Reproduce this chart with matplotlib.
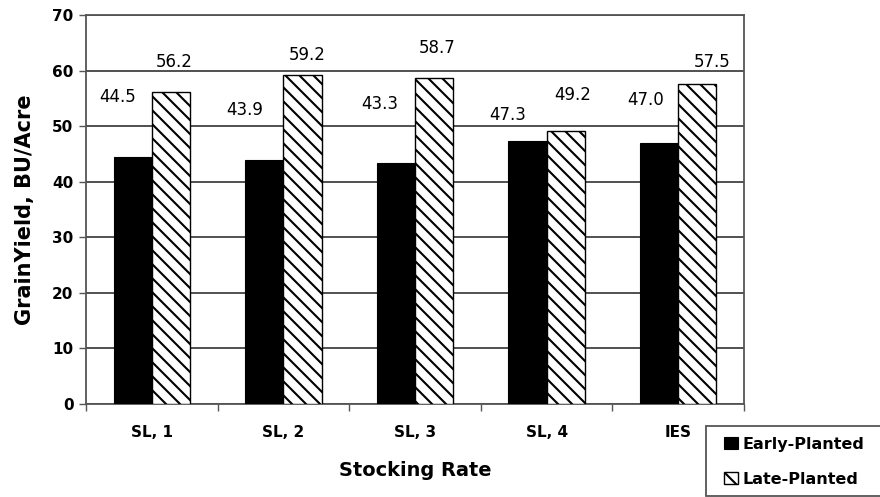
import matplotlib
matplotlib.use("Agg")
import matplotlib.pyplot as plt
from matplotlib.patches import Rectangle
import numpy as np

# Grain yield by stocking rate and planting date
categories = ["SL, 1", "SL, 2", "SL, 3", "SL, 4", "IES"]
early_planted = [44.5, 43.9, 43.3, 47.3, 47.0]
late_planted = [56.2, 59.2, 58.7, 49.2, 57.5]
y_ticks = [0, 10, 20, 30, 40, 50, 60, 70]

# Value label placement (x offset from category centre, y in axis units)
early_lbl_dx = [-0.257, -0.292, -0.266, -0.293, -0.245]
early_lbl_y = [55.2, 52.9, 54.0, 52.0, 54.7]
late_lbl_dx = [0.169, 0.179, 0.167, 0.201, 0.257]
late_lbl_y = [61.5, 62.8, 64.1, 55.6, 61.5]

# Render at 84 dpi so the hatch tile gives a tighter stripe pitch;
# point sizes are scaled so the layout stays at the 100-dpi proportions.
DPI = 84
K = 100 / DPI


def pt(v):
    return v * K


W_PX, H_PX = 881, 497

plt.rcParams["font.family"] = ["DejaVu Sans"]
plt.rcParams["hatch.linewidth"] = pt(1.5)
plt.rcParams["hatch.color"] = "black"

fig = plt.figure(figsize=(W_PX / DPI, H_PX / DPI), dpi=DPI)
ax = fig.add_axes([86 / W_PX, 1 - 404 / H_PX, (744 - 86) / W_PX, (404 - 15) / H_PX])

x = np.arange(len(categories))
w = 0.29
ax.bar(x - w / 2, early_planted, w, color="black", edgecolor="black",
       linewidth=pt(0.8), label="Early-Planted", zorder=3)
ax.bar(x + w / 2, late_planted, w, color="white", edgecolor="black",
       linewidth=pt(1.0), hatch="\\\\", label="Late-Planted", zorder=3)

for i in range(len(categories)):
    ax.text(i + early_lbl_dx[i], early_lbl_y[i], f"{early_planted[i]:.1f}",
            ha="center", va="center", fontsize=pt(12), color="black", zorder=4)
    ax.text(i + late_lbl_dx[i], late_lbl_y[i], f"{late_planted[i]:.1f}",
            ha="center", va="center", fontsize=pt(12), color="black", zorder=4)

ax.set_xlim(-0.5, len(categories) - 0.5)
ax.set_ylim(0, 70)
ax.set_yticks(y_ticks)
ax.set_yticklabels([str(v) for v in y_ticks], fontsize=pt(11), fontweight="bold")
ax.yaxis.grid(True, color="#505050", linewidth=pt(1.4), zorder=0)
ax.set_axisbelow(True)

ax.set_xticks(x)
ax.set_xticklabels(categories, fontsize=pt(11), fontweight="bold")
ax.set_xticks(np.arange(len(categories) + 1) - 0.5, minor=True)
ax.tick_params(axis="x", which="major", length=0, pad=pt(15))
ax.tick_params(axis="x", which="minor", length=pt(5), width=pt(1.0), color="#555555")
ax.tick_params(axis="y", length=pt(5), width=pt(1.0), color="#555555", pad=pt(4))

for s in ax.spines.values():
    s.set_color("#555555")
    s.set_linewidth(pt(1.3))

ax.set_xlabel("Stocking Rate", fontsize=pt(14), fontweight="bold", labelpad=pt(15))
ax.set_ylabel("GrainYield, BU/Acre", fontsize=pt(15), fontweight="bold", labelpad=pt(12))

# Legend box sits in the lower-right corner, below the plot
box_l, box_t, box_b = 706, 426, 496
fig.patches.append(Rectangle((box_l / W_PX, 1 - box_b / H_PX),
                             1 - box_l / W_PX, (box_b - box_t) / H_PX,
                             transform=fig.transFigure, facecolor="white",
                             edgecolor="#555555", linewidth=pt(1.3), zorder=1))
leg = fig.legend(loc="upper left", bbox_to_anchor=(718 / W_PX, 1 - 431 / H_PX),
                 prop={"weight": "bold", "size": pt(11.5)},
                 handlelength=0.9, handleheight=0.75, handletextpad=0.3,
                 borderaxespad=0, frameon=False, labelspacing=1.25,
                 borderpad=0.35)
leg.set_zorder(2)

fig.savefig("out.png", dpi=DPI)
